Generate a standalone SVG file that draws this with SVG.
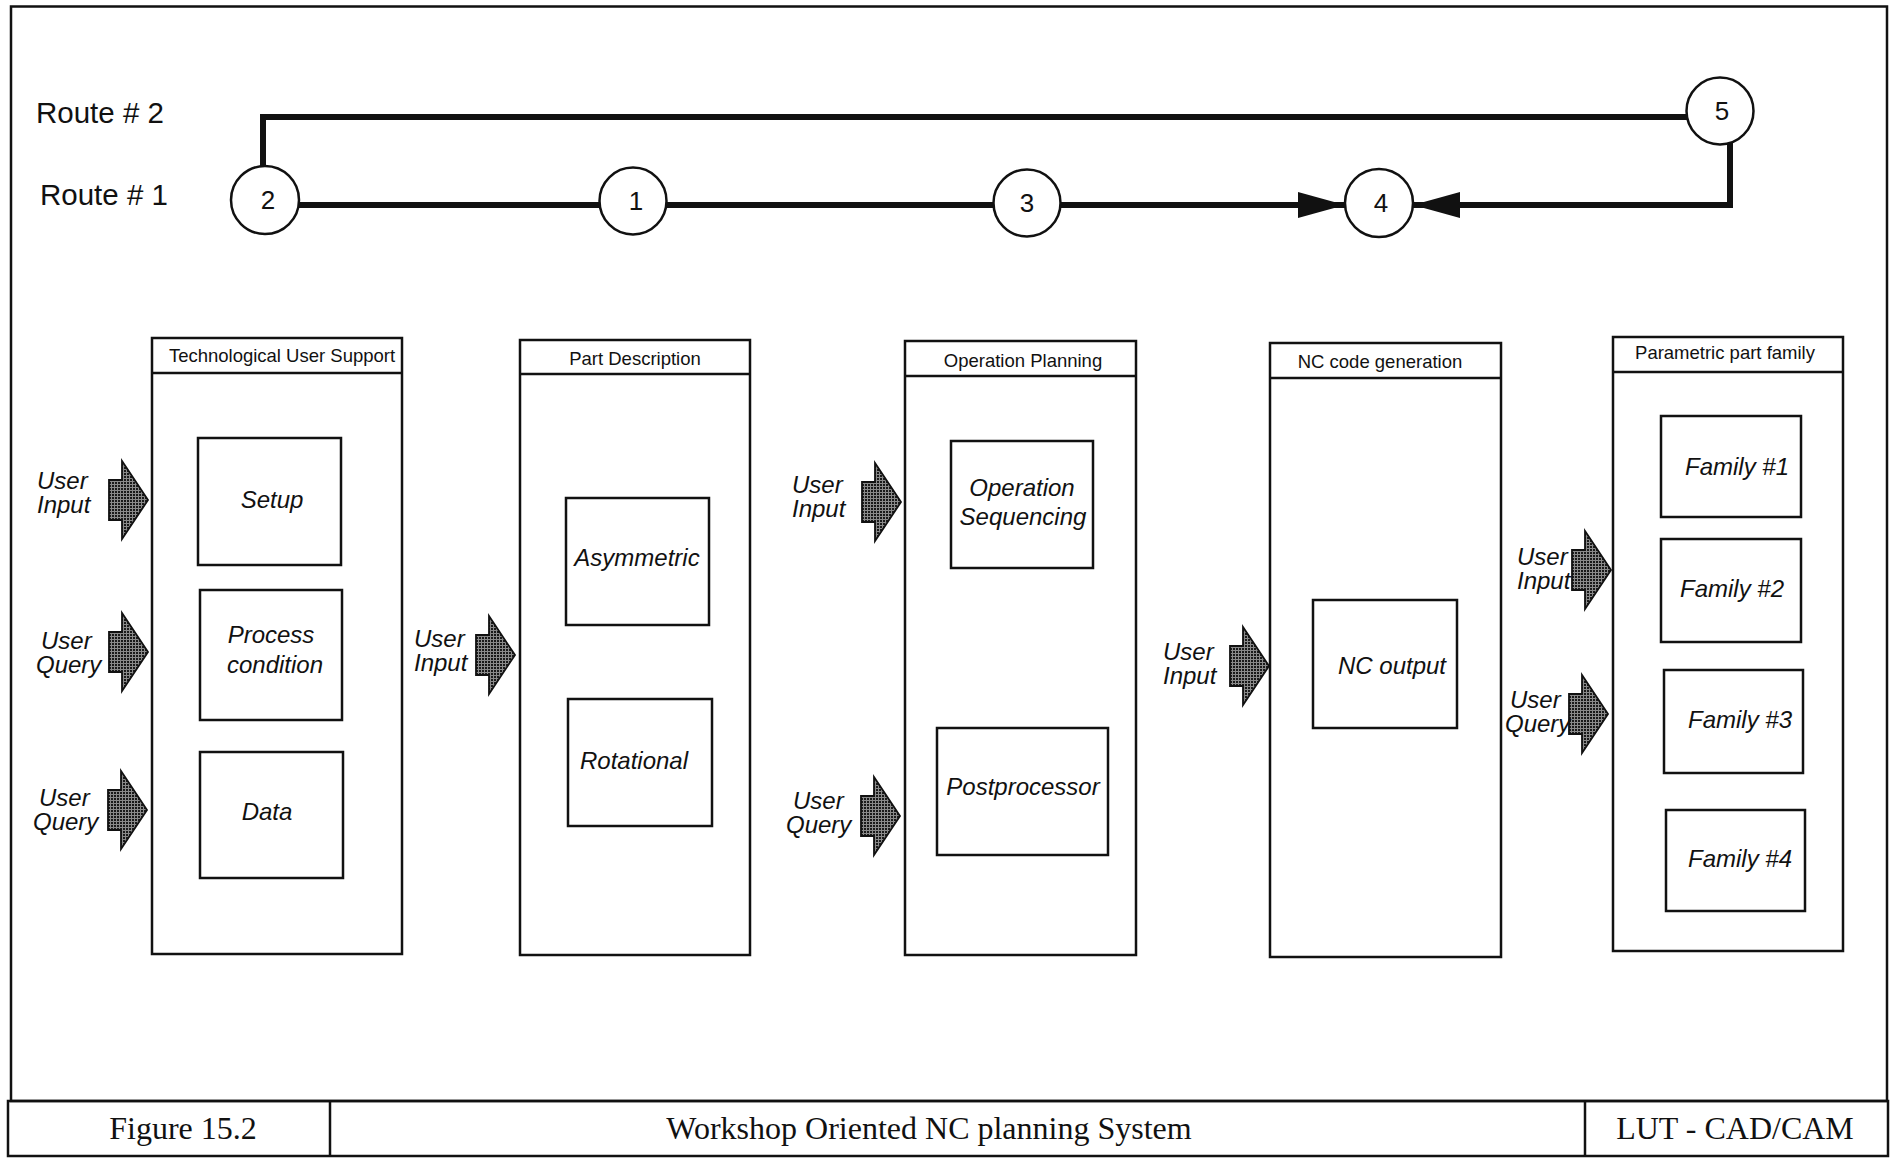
<svg xmlns="http://www.w3.org/2000/svg" xmlns:xlink="http://www.w3.org/1999/xlink" width="1896" height="1158" viewBox="0 0 1896 1158">
  <style>
    .frame { fill: none; stroke: #111; stroke-width: 2.5; }
    .box { fill: #fff; stroke: #111; stroke-width: 2.5; }
    .sep { fill: none; stroke: #111; stroke-width: 2.5; }
    .inner { fill: #fff; stroke: #111; stroke-width: 2.5; }
    .node { fill: #fff; stroke: #111; stroke-width: 2.5; }
    .wire { fill: none; stroke: #111; stroke-width: 6; stroke-linejoin: miter; }
    .blk { fill: url(#dots); stroke: #111; stroke-width: 1.8; stroke-linejoin: miter; }
    .sans { font-family: "Liberation Sans", Arial, Helvetica, sans-serif; fill: #111; }
    .hdr { font-size: 18.5px; text-anchor: middle; }
    .lbl { font-size: 24px; font-style: italic; text-anchor: middle; }
    .usr { font-size: 24px; font-style: italic; }
    .route { font-size: 29.5px; }
    .num { font-size: 26px; text-anchor: middle; }
    .foot { font-family: "Liberation Serif", "Times New Roman", serif; font-size: 32px; text-anchor: middle; fill: #111; }
  </style>
  <defs>
    <pattern id="dots" width="3" height="3" patternUnits="userSpaceOnUse">
      <rect width="3" height="3" fill="#8a8a8a"/>
      <rect width="2" height="2" fill="#1a1a1a"/>
    </pattern>
    <marker id="head" markerUnits="userSpaceOnUse" markerWidth="47" markerHeight="26" refX="47" refY="13" orient="auto">
      <path d="M0,0 L47,13 L0,26 Z" fill="#111"/>
    </marker>
    <!-- block arrow, tip at the origin -->
    <path id="blockArrow" d="M-39,-20 H-26 V-39 L0,0 L-26,39 V20 H-39 Z"/>
  </defs>

  <rect width="1896" height="1158" fill="#fff"/>

  <!-- page frame and title block -->
  <g id="frame">
    <rect class="frame" x="11" y="6.5" width="1876" height="1094.5"/>
    <rect class="frame" x="8" y="1101" width="1880" height="55"/>
    <line class="sep" x1="330" y1="1101" x2="330" y2="1156"/>
    <line class="sep" x1="1585" y1="1101" x2="1585" y2="1156"/>
    <text class="foot" x="183" y="1139">Figure 15.2</text>
    <text class="foot" x="929" y="1139">Workshop Oriented NC planning System</text>
    <text class="foot" x="1735" y="1139">LUT - CAD/CAM</text>
  </g>

  <g id="route-labels" class="sans route">
    <text x="36" y="123">Route # 2</text>
    <text x="40" y="205">Route # 1</text>
  </g>

  <!-- route connectors -->
  <g id="connectors">
    <path class="wire" d="M263,168 V117 H1690"/>
    <path class="wire" d="M298,205 H602"/>
    <path class="wire" d="M665,205 H996"/>
    <path class="wire" d="M1058,205 H1345" marker-end="url(#head)"/>
    <path class="wire" d="M1730,143 V205 H1413" marker-end="url(#head)"/>
  </g>

  <!-- route steps -->
  <g id="step-2"><circle class="node" cx="265" cy="200" r="34"/><text class="sans num" x="268" y="209">2</text></g>
  <g id="step-1"><circle class="node" cx="633" cy="201" r="33.5"/><text class="sans num" x="636" y="210">1</text></g>
  <g id="step-3"><circle class="node" cx="1027" cy="203" r="33.5"/><text class="sans num" x="1027" y="212">3</text></g>
  <g id="step-4"><circle class="node" cx="1379" cy="203" r="34"/><text class="sans num" x="1381" y="212">4</text></g>
  <g id="step-5"><circle class="node" cx="1720" cy="111" r="33.5"/><text class="sans num" x="1722" y="120">5</text></g>

  <!-- module: Technological User Support -->
  <g id="tech-user-support">
    <rect class="box" x="152" y="338" width="250" height="616"/>
    <line class="sep" x1="152" y1="373" x2="402" y2="373"/>
    <text class="sans hdr" x="282" y="362">Technological User Support</text>
    <g id="setup">
      <rect class="inner" x="198" y="438" width="143" height="127"/>
      <text class="sans lbl" x="272" y="508">Setup</text>
    </g>
    <g id="process-condition">
      <rect class="inner" x="200" y="590" width="142" height="130"/>
      <text class="sans lbl" x="271" y="643">Process</text>
      <text class="sans lbl" x="275" y="673">condition</text>
    </g>
    <g id="data">
      <rect class="inner" x="200" y="752" width="143" height="126"/>
      <text class="sans lbl" x="267" y="820">Data</text>
    </g>
  </g>

  <!-- module: Part Description -->
  <g id="part-description">
    <rect class="box" x="520" y="340" width="230" height="615"/>
    <line class="sep" x1="520" y1="374" x2="750" y2="374"/>
    <text class="sans hdr" x="635" y="365">Part Description</text>
    <g id="asymmetric">
      <rect class="inner" x="566" y="498" width="143" height="127"/>
      <text class="sans lbl" x="637" y="566">Asymmetric</text>
    </g>
    <g id="rotational">
      <rect class="inner" x="568" y="699" width="144" height="127"/>
      <text class="sans lbl" x="634" y="769">Rotational</text>
    </g>
  </g>

  <!-- module: Operation Planning -->
  <g id="operation-planning">
    <rect class="box" x="905" y="341" width="231" height="614"/>
    <line class="sep" x1="905" y1="376" x2="1136" y2="376"/>
    <text class="sans hdr" x="1023" y="367">Operation Planning</text>
    <g id="operation-sequencing">
      <rect class="inner" x="951" y="441" width="142" height="127"/>
      <text class="sans lbl" x="1022" y="496">Operation</text>
      <text class="sans lbl" x="1023" y="525">Sequencing</text>
    </g>
    <g id="postprocessor">
      <rect class="inner" x="937" y="728" width="171" height="127"/>
      <text class="sans lbl" x="1023" y="795">Postprocessor</text>
    </g>
  </g>

  <!-- module: NC code generation -->
  <g id="nc-code-generation">
    <rect class="box" x="1270" y="343" width="231" height="614"/>
    <line class="sep" x1="1270" y1="378" x2="1501" y2="378"/>
    <text class="sans hdr" x="1380" y="368">NC code generation</text>
    <g id="nc-output">
      <rect class="inner" x="1313" y="600" width="144" height="128"/>
      <text class="sans lbl" x="1392" y="674">NC output</text>
    </g>
  </g>

  <!-- module: Parametric part family -->
  <g id="parametric-part-family">
    <rect class="box" x="1613" y="337" width="230" height="614"/>
    <line class="sep" x1="1613" y1="372" x2="1843" y2="372"/>
    <text class="sans hdr" x="1725" y="359">Parametric part family</text>
    <g id="family-1">
      <rect class="inner" x="1661" y="416" width="140" height="101"/>
      <text class="sans lbl" x="1737" y="475">Family #1</text>
    </g>
    <g id="family-2">
      <rect class="inner" x="1661" y="539" width="140" height="103"/>
      <text class="sans lbl" x="1732" y="597">Family #2</text>
    </g>
    <g id="family-3">
      <rect class="inner" x="1664" y="670" width="139" height="103"/>
      <text class="sans lbl" x="1740" y="728">Family #3</text>
    </g>
    <g id="family-4">
      <rect class="inner" x="1666" y="810" width="139" height="101"/>
      <text class="sans lbl" x="1740" y="867">Family #4</text>
    </g>
  </g>

  <!-- user interaction arrows -->
  <g id="user-inputs">
    <g id="tus-input">
      <use xlink:href="#blockArrow" class="blk" transform="translate(148,500)"/>
      <text class="sans usr" x="37" y="489">User</text>
      <text class="sans usr" x="37" y="513">Input</text>
    </g>
    <g id="tus-query-1">
      <use xlink:href="#blockArrow" class="blk" transform="translate(148,652)"/>
      <text class="sans usr" x="41" y="649">User</text>
      <text class="sans usr" x="36" y="673">Query</text>
    </g>
    <g id="tus-query-2">
      <use xlink:href="#blockArrow" class="blk" transform="translate(147,810)"/>
      <text class="sans usr" x="39" y="806">User</text>
      <text class="sans usr" x="33" y="830">Query</text>
    </g>
    <g id="pd-input">
      <use xlink:href="#blockArrow" class="blk" transform="translate(515,655)"/>
      <text class="sans usr" x="414" y="647">User</text>
      <text class="sans usr" x="414" y="671">Input</text>
    </g>
    <g id="op-input">
      <use xlink:href="#blockArrow" class="blk" transform="translate(901,502)"/>
      <text class="sans usr" x="792" y="493">User</text>
      <text class="sans usr" x="792" y="517">Input</text>
    </g>
    <g id="op-query">
      <use xlink:href="#blockArrow" class="blk" transform="translate(900,816)"/>
      <text class="sans usr" x="793" y="809">User</text>
      <text class="sans usr" x="786" y="833">Query</text>
    </g>
    <g id="nc-input">
      <use xlink:href="#blockArrow" class="blk" transform="translate(1269,666)"/>
      <text class="sans usr" x="1163" y="660">User</text>
      <text class="sans usr" x="1163" y="684">Input</text>
    </g>
    <g id="ppf-input">
      <use xlink:href="#blockArrow" class="blk" transform="translate(1611,570)"/>
      <text class="sans usr" x="1517" y="565">User</text>
      <text class="sans usr" x="1517" y="589">Input</text>
    </g>
    <g id="ppf-query">
      <use xlink:href="#blockArrow" class="blk" transform="translate(1608,714)"/>
      <text class="sans usr" x="1510" y="708">User</text>
      <text class="sans usr" x="1505" y="732">Query</text>
    </g>
  </g>
</svg>
